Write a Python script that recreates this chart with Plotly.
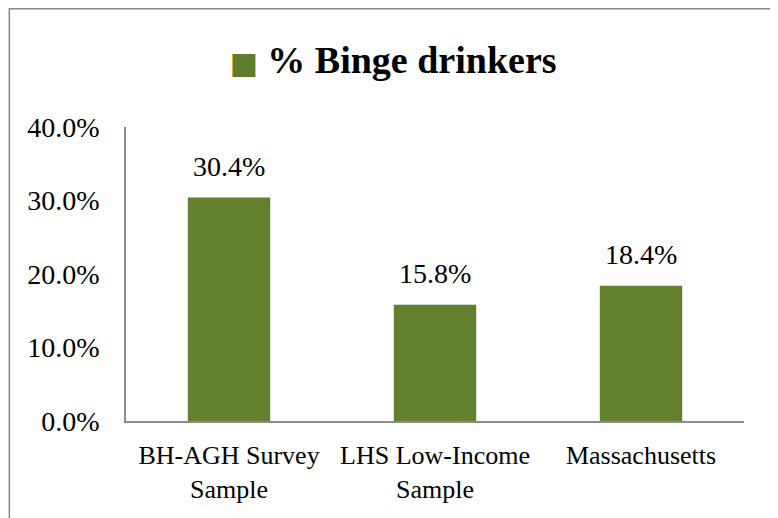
import plotly.graph_objects as pGraph

categories = ['BH-AGH Survey<br>Sample', 'LHS Low-Income<br>Sample', 'Massachusetts']
binge_share = [0.304, 0.158, 0.184]
y_ticks = [0.0, 0.1, 0.2, 0.3, 0.4]

serif = 'Liberation Serif'

# the page body adds an 8px margin, so the figure is drawn 8px smaller
W, H = 770, 510

fig = pGraph.Figure()

fig.add_trace(pGraph.Bar(
    x=categories,
    y=binge_share,
    name='% Binge drinkers',
    width=0.4,
    marker=dict(color='#62802e', line=dict(width=0)),
    showlegend=False
))

# value labels sit a bit higher above the bars than plotly's 'outside' text
for cat, val in zip(categories, binge_share):
    fig.add_annotation(
        x=cat, y=val, text=f'{val:.1%}',
        showarrow=False, yanchor='bottom', yshift=14,
        font=dict(family=serif, size=28, color='#000000')
    )

fig.update_layout(
    width=W, height=H,
    margin=dict(l=118, r=34, t=119, b=97),
    paper_bgcolor='white',
    plot_bgcolor='white',
    title=dict(
        text='<span style="color:#5f7d2c;font-family:DejaVu Sans;font-size:30px">■</span> % Binge drinkers',
        x=0.5, xanchor='center',
        y=1 - 52/H, yanchor='middle',
        font=dict(family=serif, size=38, color='#000000', weight='bold')
    ),
    xaxis=dict(
        showline=True, linecolor='#8c8c8c', linewidth=1.5,
        showgrid=False, ticks='', ticklabelstandoff=10, automargin=False,
        tickfont=dict(family=serif, size=26, color='#000000')
    ),
    yaxis=dict(
        range=[0, 0.4], tickvals=y_ticks, tickformat='.1%',
        showline=True, linecolor='#8c8c8c', linewidth=1.5,
        showgrid=False, zeroline=False, ticks='', ticklabelstandoff=19,
        automargin=False,
        tickfont=dict(family=serif, size=28, color='#000000')
    ),
    shapes=[dict(
        type='rect', xref='paper', yref='paper',
        x0=-0.1888, x1=1.0534, y0=-0.34, y1=1.402,
        line=dict(color='#8a8a8a', width=1.5), fillcolor='rgba(0,0,0,0)'
    )]
)

fig.write_html("out.html")
